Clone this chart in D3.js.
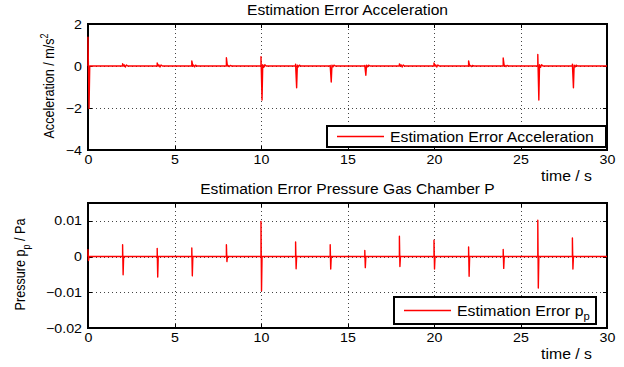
<!DOCTYPE html>
<html>
<head>
<meta charset="utf-8">
<title>Estimation errors</title>
<script src="https://cdn.jsdelivr.net/npm/d3@7"></script>
<style>
body { margin: 0; background: #fff; }
svg { display: block; font-family: "Liberation Sans", Arial, Helvetica, sans-serif; }
.box { fill: none; stroke: #000; stroke-width: 1.2; shape-rendering: crispEdges; }
.tick line { stroke: #000; shape-rendering: crispEdges; }
.grid line { stroke: #444; stroke-dasharray: 1,3; shape-rendering: crispEdges; }
.trace { fill: none; stroke: #ff0000; stroke-width: 1.4; stroke-linejoin: round; }
</style>
</head>
<body>
<script>
// time axis
var xTicks = [0, 5, 10, 15, 20, 25, 30];
var gridX = [5, 10, 15, 20, 25];

// disturbance events every 2 s
var eventTimes = [0, 2, 4, 6, 8, 10, 12, 14, 16, 18, 20, 22, 24, 26, 28];

// acceleration error (m/s^2)
var accelPeak   = [1.37, 0.11, 0.14, 0.24, 0.39, 0.44, 0.09, 0.03, 0.03, 0.10, 0.14, 0.24, 0.38, 0.55, 0.09];
var accelDip    = [-2.02, 0, 0, 0, 0, -1.62, -1.04, -0.76, -0.44, 0, 0, 0, 0, -1.62, -1.04];
var accelRipple = [0, 0.05, 0.05, 0.04, 0.03, 0.06, 0.04, 0.04, 0.04, 0.05, 0.05, 0.03, 0.03, 0.06, 0.04];
var accelTicks = [-4, -2, 0, 2];
var accelTickLabels = ["\u22124", "\u22122", "0", "2"];
var accelGrid = [-2, 0];

// pressure error (Pa)
var pressPeak = [0.0019, 0.0033, 0.0023, 0.0024, 0.0033, 0.0098, 0.0041, 0.0033, 0.0017, 0.0057, 0.0046, 0.0027, 0.0020, 0.0102, 0.0052];
var pressDip  = [-0.0011, -0.0051, -0.0057, -0.0054, -0.0014, -0.0096, -0.0034, -0.0035, -0.0031, -0.0028, -0.0035, -0.0055, -0.0033, -0.0088, -0.0035];
var pressTicks = [-0.02, -0.01, 0, 0.01];
var pressTickLabels = ["\u22120.02", "\u22120.01", "0", "0.01"];
var pressGrid = [-0.01, 0, 0.01];

var W = 624, H = 367, SX = 1.13;
var left = 88, right = 607;

var svg = d3.select("body").append("svg")
    .attr("width", W)
    .attr("height", H);

var x = d3.scaleLinear().domain([0, 30]).range([left, right]);

// build the traces from the event values
var accelPts = [];
eventTimes.forEach(function(t, i) {
  var r = accelRipple[i];
  accelPts.push([t, 0], [t, accelPeak[i]], [t + 0.06, accelDip[i]], [t + 0.1, r], [t + 0.16, -r], [t + 0.22, r], [t + 0.3, 0]);
});
accelPts.push([30, 0]);

var pressPts = [];
eventTimes.forEach(function(t, i) {
  pressPts.push([t, 0], [t, pressPeak[i]], [t + 0.03, pressDip[i]], [t + 0.06, 0]);
});
pressPts.push([30, 0]);

function stretchText(g, tx, ty, size, anchor) {
  return g.append("text")
      .attr("transform", "translate(" + tx + "," + ty + ") scale(" + SX + ",1)")
      .attr("font-size", size)
      .attr("text-anchor", anchor || "start");
}

function panel(cfg) {
  var y = d3.scaleLinear().domain(cfg.domain).range([cfg.bottom, cfg.top]);
  var g = svg.append("g");
  var h = cfg.bottom - cfg.top;

  // dotted grid
  g.append("g").attr("class", "grid")
      .attr("transform", "translate(0," + cfg.bottom + ")")
      .call(d3.axisBottom(x).tickValues(gridX).tickSize(-h).tickFormat(""))
      .call(function(s) { s.select(".domain").remove(); });
  g.append("g").attr("class", "grid")
      .attr("transform", "translate(" + left + ",0)")
      .call(d3.axisLeft(y).tickValues(cfg.grid).tickSize(-(right - left)).tickFormat(""))
      .call(function(s) { s.select(".domain").remove(); });

  // inward ticks on all four sides
  var xb = g.append("g")
      .attr("transform", "translate(0," + cfg.bottom + ")")
      .call(d3.axisBottom(x).tickValues(xTicks).tickSize(-4).tickPadding(5));
  xb.select(".domain").remove();
  xb.selectAll("text")
      .attr("font-size", 12.6).attr("fill", "#000")
      .attr("transform", "scale(" + SX + ",1)");

  var xt = g.append("g")
      .attr("transform", "translate(0," + cfg.top + ")")
      .call(d3.axisTop(x).tickValues(xTicks).tickSize(-4).tickFormat(""));
  xt.select(".domain").remove();

  var yl = g.append("g")
      .attr("transform", "translate(" + left + ",0)")
      .call(d3.axisLeft(y).tickValues(cfg.ticks).tickSize(-4).tickPadding(5)
        .tickFormat(function(d, i) { return cfg.tickLabels[i]; }));
  yl.select(".domain").remove();
  yl.selectAll("text")
      .attr("font-size", 12.6).attr("fill", "#000")
      .attr("x", -5.3)
      .attr("transform", "scale(" + SX + ",1)");

  var yr = g.append("g")
      .attr("transform", "translate(" + right + ",0)")
      .call(d3.axisRight(y).tickValues(cfg.ticks).tickSize(-4).tickFormat(""));
  yr.select(".domain").remove();

  g.append("rect").attr("class", "box")
      .attr("x", left).attr("y", cfg.top)
      .attr("width", right - left).attr("height", h);

  // data
  g.append("path").attr("class", "trace")
      .attr("d", d3.line().x(function(d) { return x(d[0]); }).y(function(d) { return y(d[1]); })(cfg.pts));

  // title
  stretchText(g, (left + right) / 2, cfg.top - 9, 13.8, "middle").text(cfg.title);

  // x label
  stretchText(g, 592, cfg.bottom + 31, 14, "end").text("time / s");

  // y label
  var yt = g.append("text")
      .attr("transform", "translate(" + cfg.ylabelX + "," + ((cfg.top + cfg.bottom) / 2 - 1) + ") scale(" + SX + ",1) rotate(-90)")
      .attr("font-size", 12.6)
      .attr("text-anchor", "middle");
  cfg.ylabel(yt);

  // legend
  var lg = g.append("g");
  lg.append("rect")
      .attr("x", cfg.legend[0]).attr("y", cfg.legend[1])
      .attr("width", cfg.legend[2]).attr("height", cfg.legend[3])
      .attr("fill", "#fff").attr("stroke", "#000").attr("stroke-width", 1.1)
      .style("shape-rendering", "crispEdges");
  var ly = cfg.legend[1] + cfg.legend[3] / 2;
  lg.append("line")
      .attr("x1", cfg.legend[0] + 10).attr("x2", cfg.legend[0] + 57)
      .attr("y1", ly).attr("y2", ly)
      .attr("stroke", "#ff0000").attr("stroke-width", 1.3);
  var lt = stretchText(lg, cfg.legend[0] + 63, ly + 5, 14, "start");
  cfg.legendText(lt);
}

panel({
  top: 24, bottom: 150, domain: [-4, 2],
  ticks: accelTicks, tickLabels: accelTickLabels, grid: accelGrid,
  pts: accelPts,
  title: "Estimation Error Acceleration",
  ylabelX: 54,
  ylabel: function(t) {
    t.append("tspan").text("Acceleration / m/s");
    t.append("tspan").attr("dy", -5).attr("font-size", 9).text("2");
  },
  legend: [327, 126, 279, 21],
  legendText: function(t) { t.text("Estimation Error Acceleration"); }
});

panel({
  top: 203, bottom: 328, domain: [-0.02, 0.015],
  ticks: pressTicks, tickLabels: pressTickLabels, grid: pressGrid,
  pts: pressPts,
  title: "Estimation Error Pressure Gas Chamber P",
  ylabelX: 25,
  ylabel: function(t) {
    t.append("tspan").text("Pressure p");
    t.append("tspan").attr("dy", 4).attr("font-size", 9).text("p");
    t.append("tspan").attr("dy", -4).text(" / Pa");
  },
  legend: [394, 297, 202, 27],
  legendText: function(t) {
    t.append("tspan").text("Estimation Error p");
    t.append("tspan").attr("dy", 4).attr("font-size", 10).text("p");
  }
});
</script>
</body>
</html>
